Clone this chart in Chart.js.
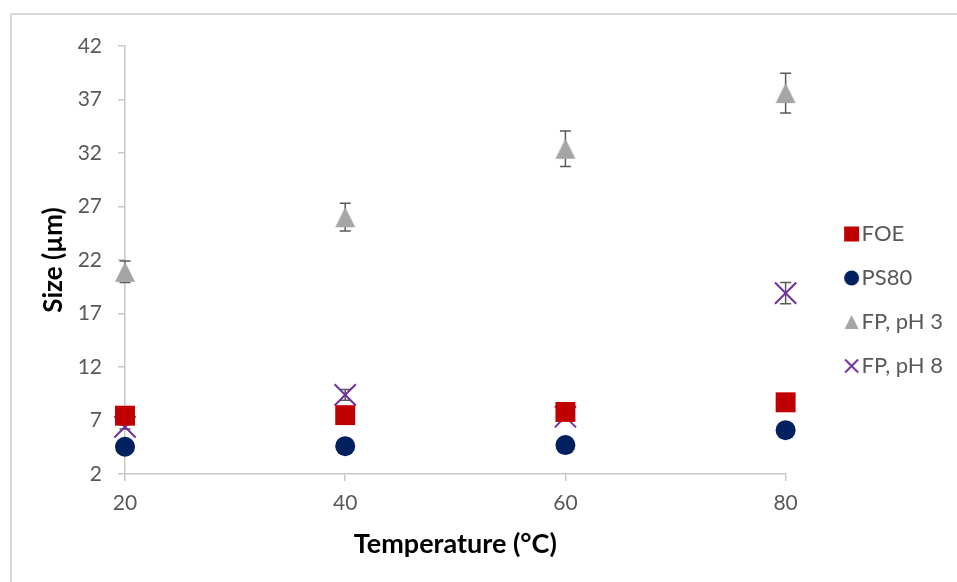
<!DOCTYPE html>
<html>
<head>
<meta charset="utf-8">
<script src="https://cdn.jsdelivr.net/npm/chart.js@4.4.1/dist/chart.umd.min.js"></script>
<style>
html, body { margin: 0; padding: 0; background: #fff; overflow: hidden; }
#wrap { position: relative; width: 957px; height: 582px; }
#frame { position: absolute; left: 10px; top: 13px; width: 1000px; height: 1000px;
         border-left: 2px solid #d9d9d9; border-top: 2px solid #d9d9d9; }
#graph { position: absolute; left: 0; top: 0; }
</style>
</head>
<body>
<div id="wrap">
  <div id="frame"></div>
  <canvas id="graph" width="957" height="582"></canvas>
</div>
<script>
'use strict';

// Données (taille en µm selon la température)
const temperatures = [20, 40, 60, 80];
const seriesNames = ['FOE', 'PS80', 'FP, pH 3', 'FP, pH 8'];
const foeSize = [7.45, 7.5, 7.8, 8.7];
const foeErr = [0.3, 0.3, 0.3, 0.4];
const ps80Size = [4.55, 4.6, 4.7, 6.1];
const ps80Err = [0.2, 0.2, 0.2, 0.3];
const ph3Size = [20.9, 26.0, 32.4, 37.6];
const ph3Err = [1.0, 1.3, 1.65, 1.85];
const ph8Size = [6.4, 9.4, 7.35, 18.9];
const ph8Err = [0.2, 0.5, 0.2, 1.0];
const yTicks = [2, 7, 12, 17, 22, 27, 32, 37, 42];

const RED = '#c00000';
const NAVY = '#002060';
const GREY = '#a5a5a5';
const PURPLE = '#7030a0';
const TEXT = '#595959';
const AXIS = '#c8c8c8';

// Petit canvas pour dessiner un marqueur (légende et triangles)
function markerCanvas(shape, size, color, w, h, cx) {
    const c = document.createElement('canvas');
    c.width = w;
    c.height = h;
    const g = c.getContext('2d');
    const cy = h / 2;
    const r = size / 2;
    g.fillStyle = color;
    g.strokeStyle = color;
    if (shape === 'rect') {
        g.fillRect(cx - r, cy - r, size, size);
    } else if (shape === 'circle') {
        g.beginPath();
        g.arc(cx, cy, r, 0, Math.PI * 2);
        g.fill();
    } else if (shape === 'triangle') {
        g.beginPath();
        g.moveTo(cx, cy - r);
        g.lineTo(cx + r, cy + r);
        g.lineTo(cx - r, cy + r);
        g.closePath();
        g.fill();
    } else {
        g.lineWidth = 2;
        g.beginPath();
        g.moveTo(cx - r, cy - r);
        g.lineTo(cx + r, cy + r);
        g.moveTo(cx + r, cy - r);
        g.lineTo(cx - r, cy + r);
        g.stroke();
    }
    return c;
}

const triangleMark = markerCanvas('triangle', 20, GREY, 24, 24, 12);
const legendMarks = [
    markerCanvas('rect', 15, RED, 70, 20, 57.5),
    markerCanvas('circle', 15, NAVY, 70, 20, 57.5),
    markerCanvas('triangle', 14, GREY, 70, 20, 57.5),
    markerCanvas('cross', 13, PURPLE, 70, 20, 57.5)
];

function toPoints(values) {
    return temperatures.map((t, i) => ({ x: t, y: values[i] }));
}

// Barres d'erreur dessinées avant les marqueurs
const errorBars = {
    id: 'errorBars',
    beforeDatasetsDraw(chart) {
        const { ctx, scales: { x, y } } = chart;
        ctx.save();
        ctx.strokeStyle = TEXT;
        ctx.lineWidth = 1.5;
        chart.data.datasets.forEach(ds => {
            ds.data.forEach((p, i) => {
                const e = ds.errors[i];
                const px = x.getPixelForValue(p.x);
                const top = y.getPixelForValue(p.y + e);
                const bot = y.getPixelForValue(p.y - e);
                ctx.beginPath();
                ctx.moveTo(px, top);
                ctx.lineTo(px, bot);
                ctx.moveTo(px - 5.5, top);
                ctx.lineTo(px + 5.5, top);
                ctx.moveTo(px - 5.5, bot);
                ctx.lineTo(px + 5.5, bot);
                ctx.stroke();
            });
        });
        ctx.restore();
    }
};

Chart.defaults.font.family = 'Lato';

const ctx = document.getElementById('graph').getContext('2d');
new Chart(ctx, {
    type: 'scatter',
    data: {
        datasets: [
            {
                label: seriesNames[0], data: toPoints(foeSize), errors: foeErr, clip: false,
                pointStyle: 'rect', pointRadius: 14.1, backgroundColor: RED, borderColor: RED, borderWidth: 0
            },
            {
                label: seriesNames[1], data: toPoints(ps80Size), errors: ps80Err, clip: false,
                pointStyle: 'circle', pointRadius: 10, backgroundColor: NAVY, borderColor: NAVY, borderWidth: 0
            },
            {
                label: seriesNames[2], data: toPoints(ph3Size), errors: ph3Err, clip: false,
                pointStyle: triangleMark, pointRadius: 11, backgroundColor: GREY, borderColor: GREY
            },
            {
                label: seriesNames[3], data: toPoints(ph8Size), errors: ph8Err, clip: false,
                pointStyle: 'crossRot', pointRadius: 15, backgroundColor: PURPLE, borderColor: PURPLE, borderWidth: 2
            }
        ]
    },
    options: {
        responsive: false,
        animation: false,
        layout: { padding: { left: 0, top: 46, right: 4, bottom: 28 } },
        plugins: {
            tooltip: { enabled: false },
            legend: {
                position: 'right',
                labels: {
                    usePointStyle: true,
                    pointStyleWidth: 43,
                    padding: 22,
                    color: TEXT,
                    font: { size: 22 },
                    generateLabels(chart) {
                        const items = Chart.defaults.plugins.legend.labels.generateLabels(chart);
                        items.forEach((it, i) => { it.pointStyle = legendMarks[i]; });
                        return items;
                    }
                }
            }
        },
        scales: {
            x: {
                type: 'linear',
                min: 20,
                max: 80,
                afterFit: s => { s.height = 80; },
                ticks: { stepSize: 20, color: TEXT, font: { size: 21 }, padding: 10 },
                grid: { drawOnChartArea: false, color: AXIS, tickLength: 7, lineWidth: 1.5 },
                border: { color: AXIS, width: 1.5 },
                title: {
                    display: true, text: 'Temperature (°C)', color: '#000',
                    font: { size: 27, weight: 'bold', lineHeight: 0.7 }, padding: { top: 0, bottom: 0 }
                }
            },
            y: {
                min: 2,
                max: 42,
                afterFit: s => { s.width = 125; },
                afterBuildTicks: s => { s.ticks = yTicks.map(v => ({ value: v })); },
                ticks: { color: TEXT, font: { size: 21 }, padding: 16 },
                grid: { drawOnChartArea: false, color: AXIS, tickLength: 7, lineWidth: 1.5 },
                border: { color: AXIS, width: 1.5 },
                title: {
                    display: true, text: 'Size (µm)', color: '#000',
                    font: { size: 26, weight: 'bold', lineHeight: 0.7 }, padding: { top: 45, bottom: 0 }
                }
            }
        }
    },
    plugins: [errorBars]
});
</script>
</body>
</html>
